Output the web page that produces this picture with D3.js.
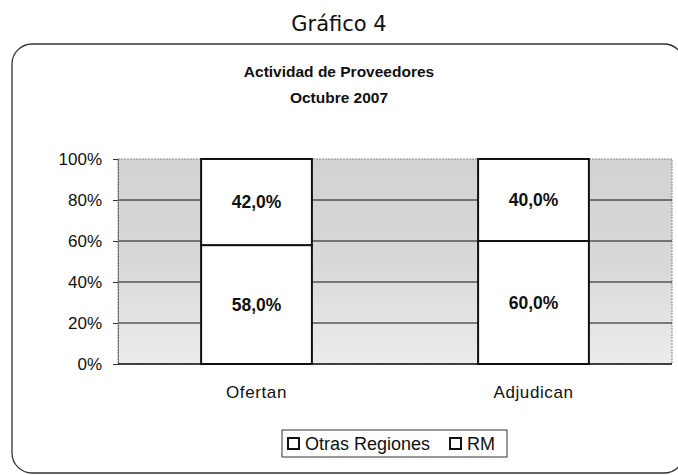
<!DOCTYPE html>
<html>
<head>
<meta charset="utf-8">
<script src="https://cdn.jsdelivr.net/npm/d3@7"></script>
<style>
	body { margin: 0; background: #fff; }
	svg { display: block; }
</style>
</head>
<body>
<div id="chart"></div>
<script>
const categories = ['Ofertan', 'Adjudican'];
const seriesNames = ['RM', 'Otras Regiones'];
const rmValues = [58.0, 60.0];
const otrasValues = [42.0, 40.0];
const yTicks = [0, 20, 40, 60, 80, 100];
const legendLabels = ['Otras Regiones', 'RM'];

const width = 678;
const height = 475;
const margin = { top: 159, right: 6, bottom: 111, left: 118 };
const font = 'Liberation Sans, Arial';

const svg = d3.select('#chart').append('svg')
	.attr('width', width)
	.attr('height', height);

const defs = svg.append('defs');
const grad = defs.append('linearGradient')
	.attr('id', 'bg')
	.attr('x1', 0).attr('y1', 0).attr('x2', 0).attr('y2', 1);
grad.append('stop').attr('offset', '0%').attr('stop-color', '#d2d2d2');
grad.append('stop').attr('offset', '50%').attr('stop-color', '#d8d8d8');
grad.append('stop').attr('offset', '100%').attr('stop-color', '#ececec');

// outer frame
svg.append('rect')
	.attr('x', 12).attr('y', 44)
	.attr('width', 672).attr('height', 429)
	.attr('rx', 20)
	.attr('fill', 'none')
	.attr('stroke', '#333')
	.attr('stroke-width', 1.3);

svg.append('text')
	.attr('x', 339).attr('y', 31)
	.attr('text-anchor', 'middle')
	.style('font-family', 'DejaVu Sans')
	.style('font-size', '21px')
	.attr('fill', '#111')
	.text('Gráfico 4');

const titles = ['Actividad de Proveedores', 'Octubre 2007'];
svg.selectAll('.title')
	.data(titles)
	.enter()
	.append('text')
	.attr('class', 'title')
	.attr('x', 339)
	.attr('y', (d, i) => 77 + i * 26)
	.attr('text-anchor', 'middle')
	.style('font-family', font)
	.style('font-size', '15.5px')
	.style('font-weight', 'bold')
	.attr('fill', '#111')
	.text((d) => d);

const innerW = width - margin.left - margin.right;
const innerH = height - margin.top - margin.bottom;

const plot = svg.append('g')
	.attr('transform', `translate(${margin.left},${margin.top})`);

const xScale = d3.scaleBand()
	.domain(categories)
	.range([0, innerW])
	.paddingInner(0.6)
	.paddingOuter(0.3);

const yScale = d3.scaleLinear()
	.domain([0, 100])
	.range([innerH, 0]);

plot.append('rect')
	.attr('width', innerW)
	.attr('height', innerH)
	.attr('fill', 'url(#bg)')
	.attr('stroke', '#888')
	.attr('stroke-dasharray', '2,1');

plot.append('g')
	.selectAll('line')
	.data(yTicks.filter((d) => d > 0 && d < 100))
	.enter()
	.append('line')
	.attr('x1', 0).attr('x2', innerW)
	.attr('y1', (d) => yScale(d)).attr('y2', (d) => yScale(d))
	.attr('stroke', '#111')
	.attr('stroke-width', 1);

const yAxis = d3.axisLeft(yScale)
	.tickValues(yTicks)
	.tickSize(5)
	.tickFormat((d) => d + '%');

const yG = plot.append('g').call(yAxis);
yG.select('.domain').attr('stroke', '#777');
yG.selectAll('.tick line').attr('stroke', '#333');
yG.selectAll('.tick text')
	.attr('x', -16)
	.style('font-family', font)
	.style('font-size', '17px')
	.attr('fill', '#111');

const stack = categories.map((c, i) => [
	{ cat: c, y0: 0, y1: rmValues[i], v: rmValues[i] },
	{ cat: c, y0: rmValues[i], y1: rmValues[i] + otrasValues[i], v: otrasValues[i] },
]).flat();

const fmt = (v) => v.toFixed(1).replace('.', ',') + '%';

plot.selectAll('.bar')
	.data(stack)
	.enter()
	.append('rect')
	.attr('class', 'bar')
	.attr('x', (d) => xScale(d.cat))
	.attr('y', (d) => yScale(d.y1))
	.attr('width', xScale.bandwidth())
	.attr('height', (d) => yScale(d.y0) - yScale(d.y1))
	.attr('fill', '#fff')
	.attr('stroke', '#111')
	.attr('stroke-width', 2);

plot.selectAll('.lbl')
	.data(stack)
	.enter()
	.append('text')
	.attr('class', 'lbl')
	.attr('x', (d) => xScale(d.cat) + xScale.bandwidth() / 2)
	.attr('y', (d) => yScale((d.y0 + d.y1) / 2) + 6)
	.attr('text-anchor', 'middle')
	.style('font-family', font)
	.style('font-size', '17.5px')
	.style('font-weight', 'bold')
	.attr('fill', '#111')
	.text((d) => fmt(d.v));

// x axis
plot.append('line')
	.attr('x1', 0).attr('x2', innerW)
	.attr('y1', innerH).attr('y2', innerH)
	.attr('stroke', '#111')
	.attr('stroke-width', 1.5);

plot.selectAll('.xlbl')
	.data(categories)
	.enter()
	.append('text')
	.attr('class', 'xlbl')
	.attr('x', (d) => xScale(d) + xScale.bandwidth() / 2)
	.attr('y', innerH + 34)
	.attr('text-anchor', 'middle')
	.style('font-family', font)
	.style('font-size', '17px')
	.style('letter-spacing', '0.6px')
	.attr('fill', '#111')
	.text((d) => d);

// legend
const legend = svg.append('g').attr('transform', 'translate(282,430)');
legend.append('rect')
	.attr('width', 225).attr('height', 27)
	.attr('fill', '#fff')
	.attr('stroke', '#333');

const legendX = [6, 168];
const items = legend.selectAll('.item')
	.data(legendLabels)
	.enter()
	.append('g')
	.attr('transform', (d, i) => `translate(${legendX[i]},0)`);
items.append('rect')
	.attr('x', 0).attr('y', 8)
	.attr('width', 11).attr('height', 11)
	.attr('fill', '#fff')
	.attr('stroke', '#111')
	.attr('stroke-width', 2);
items.append('text')
	.attr('x', 17).attr('y', 20)
	.style('font-family', font)
	.style('font-size', '18px')
	.attr('fill', '#111')
	.text((d) => d);
</script>
</body>
</html>
